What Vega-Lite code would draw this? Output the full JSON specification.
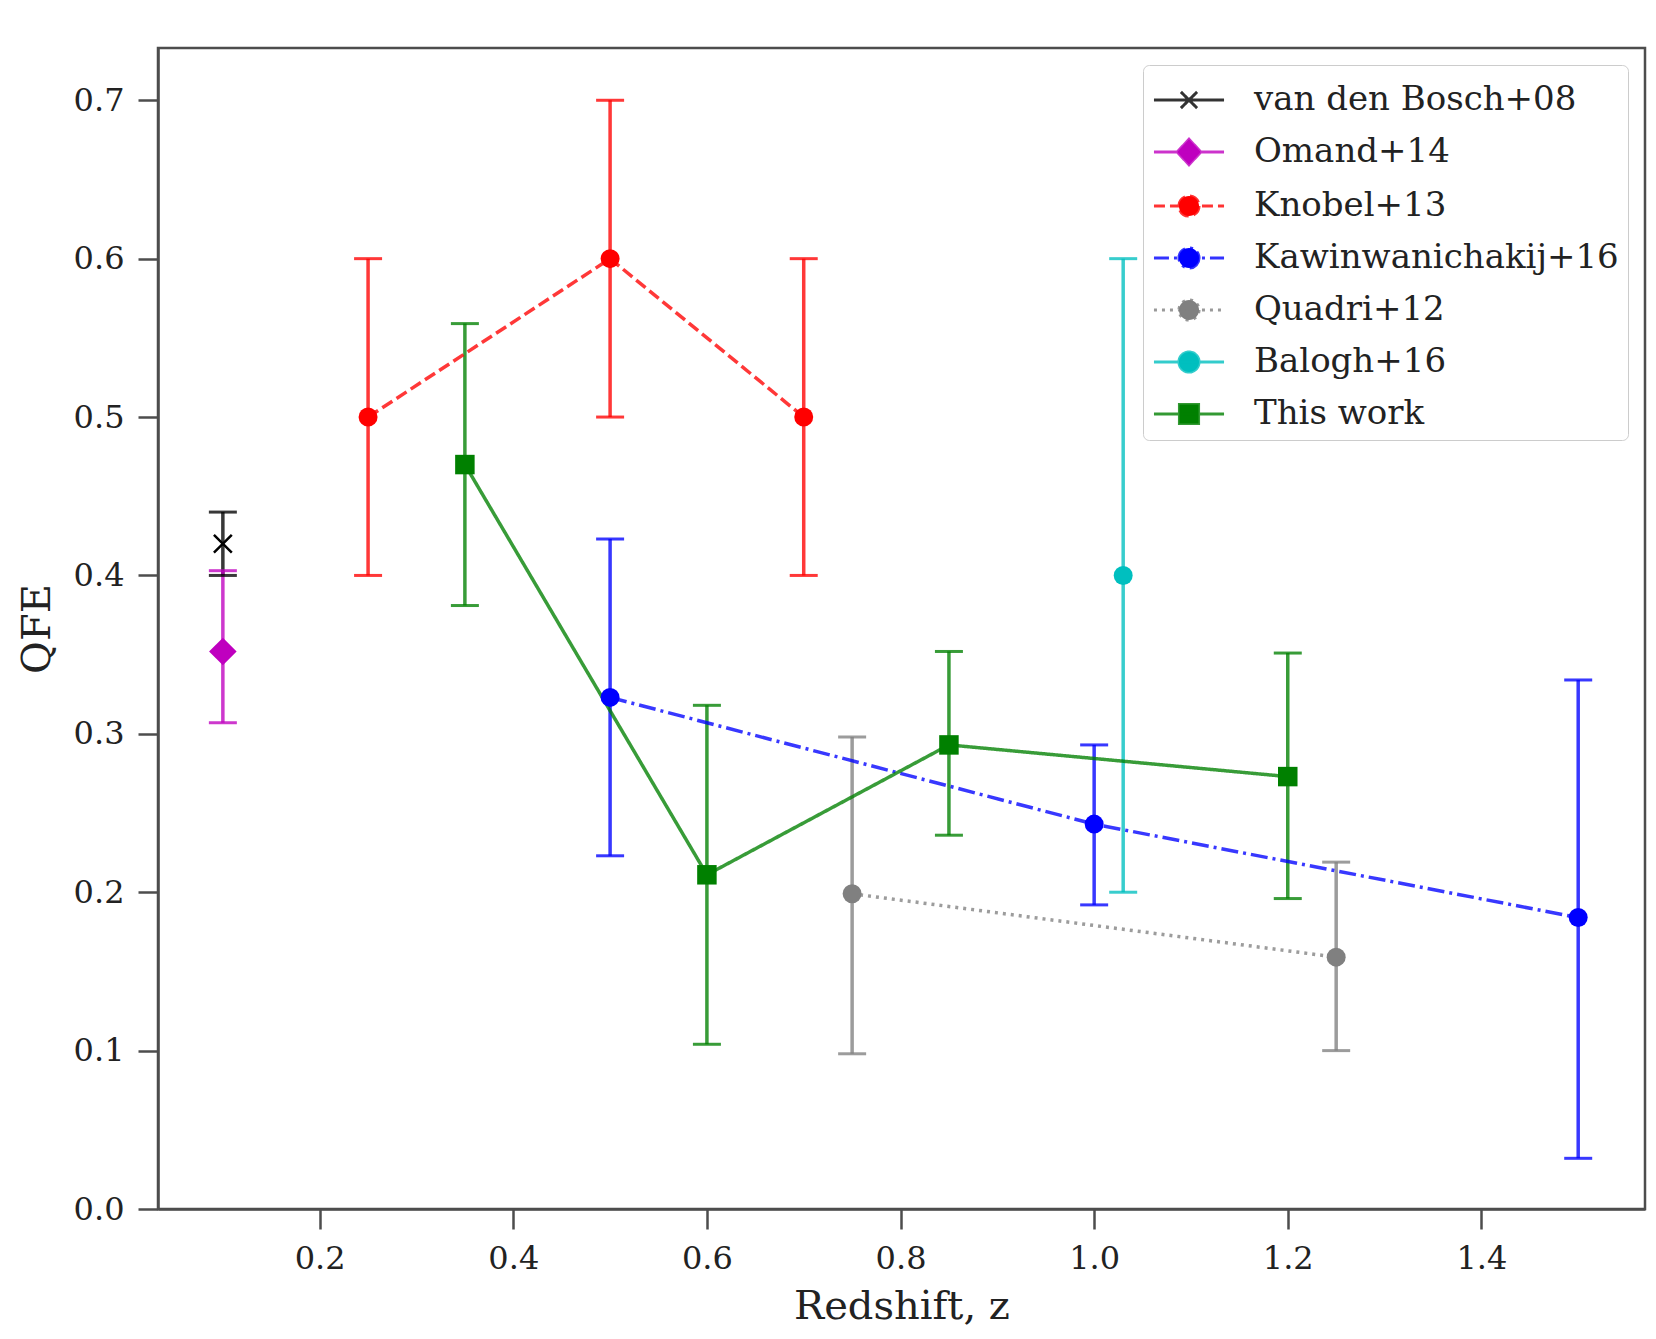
{
  "$schema": "https://vega.github.io/schema/vega-lite/v6.json",
  "autosize": {"type": "none"},
  "width": 1487,
  "height": 1161,
  "padding": {"left": 158, "top": 48, "right": 11, "bottom": 130},
  "background": "white",
  "config": {
    "view": {"stroke": "#4d4d4d", "strokeWidth": 2.5},
    "axis": {
      "grid": false,
      "domainColor": "#4d4d4d",
      "domainWidth": 2.5,
      "tickColor": "#4d4d4d",
      "tickWidth": 2.5,
      "tickSize": 20,
      "labelFont": "DejaVu Serif",
      "labelFontSize": 32,
      "labelColor": "#222222",
      "titleFont": "DejaVu Serif",
      "titleFontSize": 40,
      "titleFontWeight": "normal",
      "titleColor": "#222222"
    }
  },
  "data": {
    "values": [
      {"series": "van den Bosch+08", "z": 0.1, "qfe": 0.42, "lo": 0.40, "hi": 0.44},
      {"series": "Omand+14", "z": 0.1, "qfe": 0.352, "lo": 0.307, "hi": 0.403},
      {"series": "Knobel+13", "z": 0.25, "qfe": 0.5, "lo": 0.4, "hi": 0.6},
      {"series": "Knobel+13", "z": 0.5, "qfe": 0.6, "lo": 0.5, "hi": 0.7},
      {"series": "Knobel+13", "z": 0.7, "qfe": 0.5, "lo": 0.4, "hi": 0.6},
      {"series": "Kawinwanichakij+16", "z": 0.5, "qfe": 0.323, "lo": 0.223, "hi": 0.423},
      {"series": "Kawinwanichakij+16", "z": 1.0, "qfe": 0.243, "lo": 0.192, "hi": 0.293},
      {"series": "Kawinwanichakij+16", "z": 1.5, "qfe": 0.184, "lo": 0.032, "hi": 0.334},
      {"series": "Quadri+12", "z": 0.75, "qfe": 0.199, "lo": 0.098, "hi": 0.298},
      {"series": "Quadri+12", "z": 1.25, "qfe": 0.159, "lo": 0.1, "hi": 0.219},
      {"series": "Balogh+16", "z": 1.03, "qfe": 0.4, "lo": 0.2, "hi": 0.6},
      {"series": "This work", "z": 0.35, "qfe": 0.47, "lo": 0.381, "hi": 0.559},
      {"series": "This work", "z": 0.6, "qfe": 0.211, "lo": 0.104, "hi": 0.318},
      {"series": "This work", "z": 0.85, "qfe": 0.293, "lo": 0.236, "hi": 0.352},
      {"series": "This work", "z": 1.2, "qfe": 0.273, "lo": 0.196, "hi": 0.351}
    ]
  },
  "encoding": {
    "x": {
      "field": "z",
      "type": "quantitative",
      "scale": {"domain": [0.033, 1.569], "nice": false, "zero": false},
      "axis": {"title": "Redshift, z", "values": [0.2, 0.4, 0.6, 0.8, 1.0, 1.2, 1.4], "format": ".1f", "labelPadding": 14, "titlePadding": 12}
    },
    "color": {
      "field": "series",
      "type": "nominal",
      "legend": null,
      "scale": {
        "domain": ["Balogh+16", "Kawinwanichakij+16", "Knobel+13", "Omand+14", "Quadri+12", "This work", "van den Bosch+08"],
        "range": ["#00bfbf", "#0000ff", "#ff0000", "#bf00bf", "#808080", "#008000", "#000000"]
      }
    }
  },
  "layer": [
    {
      "mark": {"type": "rule", "strokeWidth": 3.5, "opacity": 0.78},
      "encoding": {
        "y": {
          "field": "lo",
          "type": "quantitative",
          "scale": {"domain": [0, 0.733], "nice": false, "zero": false},
          "axis": {"title": "QFE", "values": [0, 0.1, 0.2, 0.3, 0.4, 0.5, 0.6, 0.7], "format": ".1f", "labelPadding": 14, "titlePadding": 16}
        },
        "y2": {"field": "hi"}
      }
    },
    {
      "transform": [{"fold": ["lo", "hi"], "as": ["end", "bound"]}],
      "mark": {"type": "tick", "orient": "horizontal", "size": 28, "thickness": 3, "opacity": 0.78},
      "encoding": {
        "y": {"field": "bound", "type": "quantitative"}
      }
    },
    {
      "transform": [{"filter": {"field": "series", "oneOf": ["Knobel+13", "Kawinwanichakij+16", "Quadri+12", "This work"]}}],
      "mark": {"type": "line", "strokeWidth": 3.5, "opacity": 0.78},
      "encoding": {
        "y": {"field": "qfe", "type": "quantitative"},
        "strokeDash": {
          "field": "series",
          "type": "nominal",
          "legend": null,
          "scale": {
            "domain": ["Knobel+13", "Kawinwanichakij+16", "Quadri+12", "This work"],
            "range": [[12, 5], [17, 5, 3, 5], [3, 5], [1, 0]]
          }
        }
      }
    },
    {
      "transform": [{"filter": {"field": "series", "equal": "van den Bosch+08"}}],
      "mark": {"type": "point", "shape": "M-1,-1L1,1M-1,1L1,-1", "filled": false, "size": 320, "strokeWidth": 2.5, "opacity": 1},
      "encoding": {"y": {"field": "qfe", "type": "quantitative"}}
    },
    {
      "transform": [{"filter": {"field": "series", "equal": "Omand+14"}}],
      "mark": {"type": "point", "shape": "diamond", "filled": true, "size": 760, "opacity": 1},
      "encoding": {"y": {"field": "qfe", "type": "quantitative"}}
    },
    {
      "transform": [{"filter": {"field": "series", "oneOf": ["Knobel+13", "Kawinwanichakij+16", "Quadri+12", "Balogh+16"]}}],
      "mark": {"type": "point", "shape": "circle", "filled": true, "size": 360, "opacity": 1},
      "encoding": {"y": {"field": "qfe", "type": "quantitative"}}
    },
    {
      "transform": [{"filter": {"field": "series", "equal": "This work"}}],
      "mark": {"type": "point", "shape": "square", "filled": true, "size": 380, "opacity": 1},
      "encoding": {"y": {"field": "qfe", "type": "quantitative"}}
    },
    {
      "mark": {"type": "point", "filled": true, "opacity": 0},
      "encoding": {
        "y": {"field": "qfe", "type": "quantitative"},
        "shape": {
          "field": "series",
          "type": "nominal",
          "scale": {
            "domain": ["van den Bosch+08", "Omand+14", "Knobel+13", "Kawinwanichakij+16", "Quadri+12", "Balogh+16", "This work"],
            "range": [
              "M-1.43,0H1.43M-0.33,-0.33L0.33,0.33M-0.33,0.33L0.33,-0.33",
              "M-1.43,0H1.43M0,-0.52L0.48,0L0,0.52L-0.48,0Z",
              "M-1.43,0H1.43M0.41,0A0.41,0.41,0,1,1,-0.41,0A0.41,0.41,0,1,1,0.41,0Z",
              "M-1.43,0H1.43M0.41,0A0.41,0.41,0,1,1,-0.41,0A0.41,0.41,0,1,1,0.41,0Z",
              "M-1.43,0H1.43M0.41,0A0.41,0.41,0,1,1,-0.41,0A0.41,0.41,0,1,1,0.41,0Z",
              "M-1.43,0H1.43M0.41,0A0.41,0.41,0,1,1,-0.41,0A0.41,0.41,0,1,1,0.41,0Z",
              "M-1.43,0H1.43M-0.39,-0.39H0.39V0.39H-0.39Z"
            ]
          },
          "legend": {
            "title": null,
            "orient": "top-right",
            "offset": 17,
            "padding": 9,
            "fillColor": "white",
            "strokeColor": "#cccccc",
            "cornerRadius": 6,
            "rowPadding": 9,
            "symbolSize": 2401,
            "symbolStrokeWidth": 3,
            "symbolOffset": 11,
            "labelFont": "DejaVu Serif",
            "labelFontSize": 34,
            "labelColor": "#222222",
            "labelOffset": 39,
            "labelLimit": 0,
            "encoding": {
              "symbols": {
                "fill": {"value": {"expr": "scale('color', datum.value)"}},
                "stroke": {"value": {"expr": "scale('color', datum.value)"}},
                "opacity": {"value": 1},
                "strokeOpacity": {"value": 0.8},
                "fillOpacity": {"value": 1},
                "strokeWidth": {"value": 3},
                "strokeDash": {"value": {"expr": "datum.value === 'Knobel+13' ? [11, 5] : datum.value === 'Kawinwanichakij+16' ? [15, 5, 3, 5] : datum.value === 'Quadri+12' ? [3, 5] : [1, 0]"}}
              }
            }
          }
        }
      }
    }
  ]
}
